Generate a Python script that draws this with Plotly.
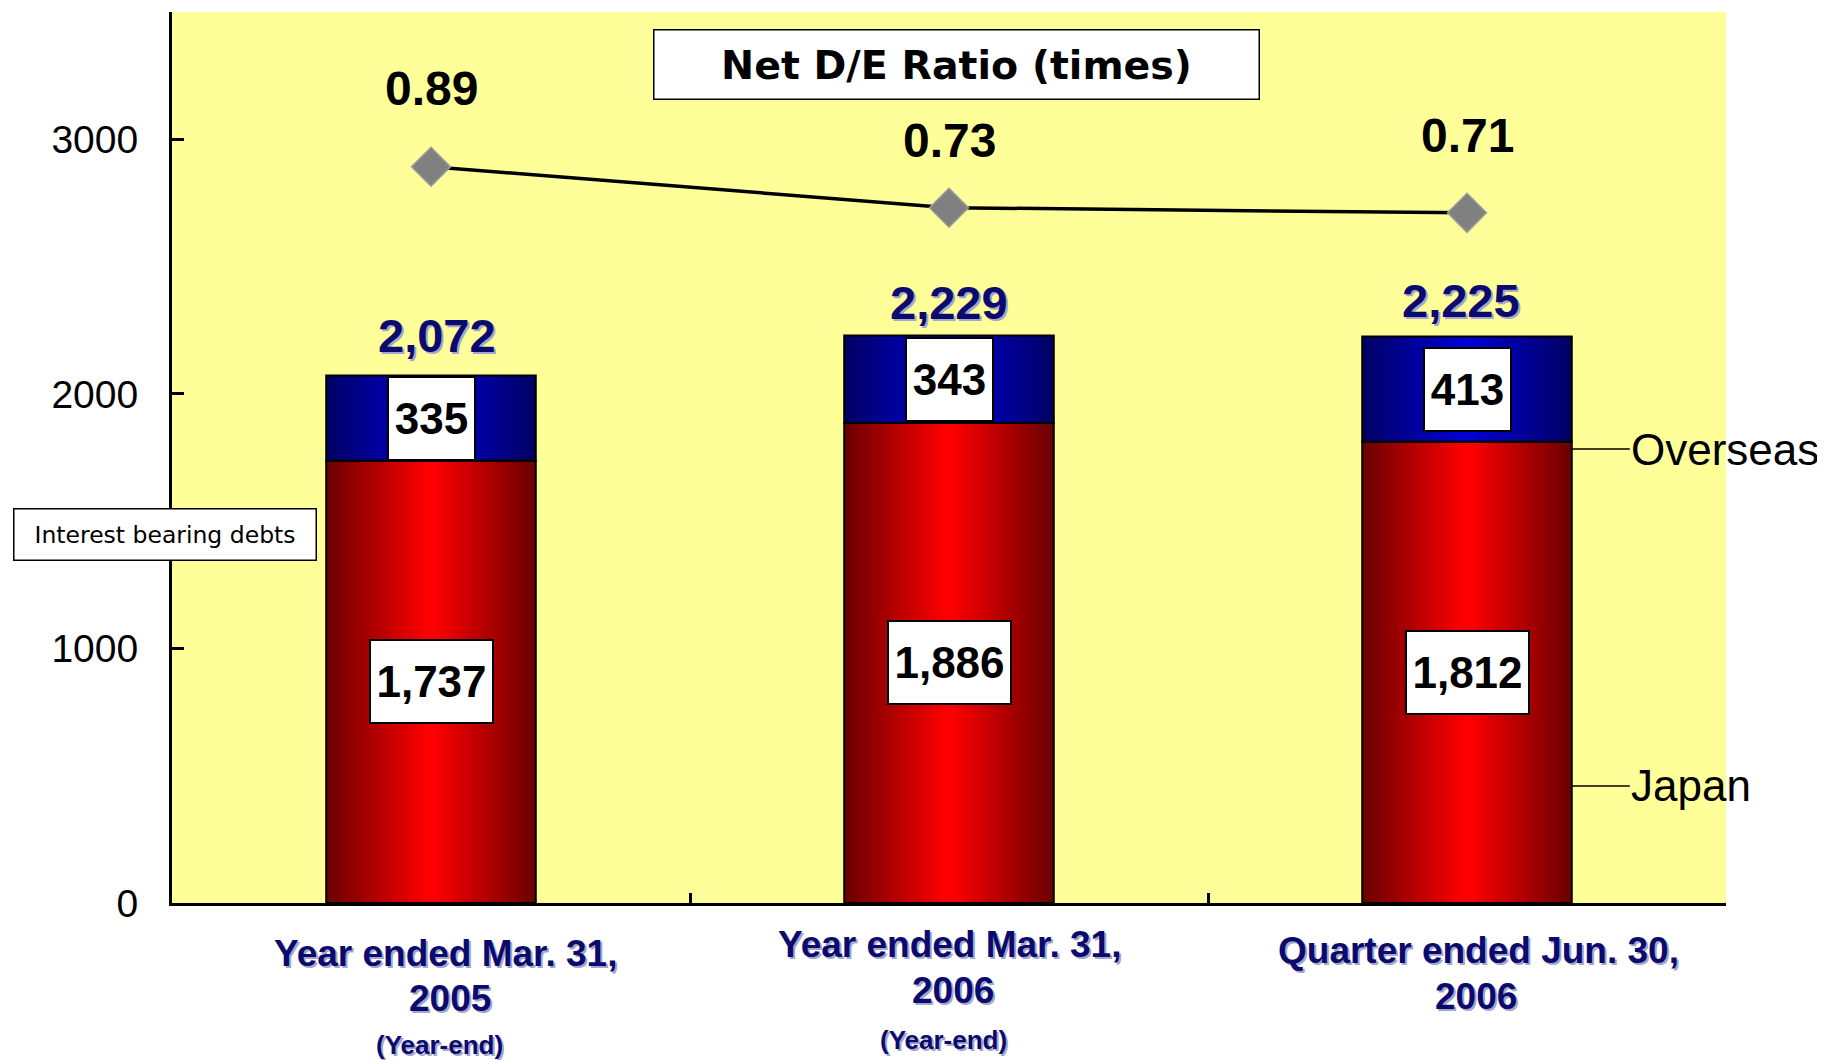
import plotly.graph_objects as go

# ---------------- data ----------------
categories = ["Year ended Mar. 31, 2005", "Year ended Mar. 31, 2006", "Quarter ended Jun. 30, 2006"]
japan = [1737, 1886, 1812]
overseas = [335, 343, 413]
totals = [2072, 2229, 2225]
de_ratio = [0.89, 0.73, 0.71]
cat_line1 = ["Year ended Mar. 31,", "Year ended Mar. 31,", "Quarter ended Jun. 30,"]
cat_line2 = ["2005", "2006", "2006"]
cat_line3 = ["(Year-end)", "(Year-end)", ""]
y_ticks = [0, 1000, 2000, 3000]

# ---------------- style / layout constants ----------------
FONT = "Liberation Sans, Arial, sans-serif"
NAVY = "#0b0b6e"
SHADOW = "2px 2px 0px #a6a6cc"
BAR_W = 0.4045
N_LAYERS = 32
RED_DARK, RED_BRIGHT = (108, 0, 0), (255, 0, 0)
BLUE_DARK, BLUE_BRIGHT = (0, 0, 100), (0, 0, 215)

RATIO_SHIFT = [78, 67, 77]
TOTAL_SHIFT = [40, 33, 36]
TOTAL_XSHIFT = [6, 0, -6]
XL_SHIFT_X = [[14, 19, 8], [0, 4, -6], [11, 9, 0]]
XL_SHIFT_Y = [[-50, -95, -142], [-41, -87, -137], [-47, -93, -140]]


def mix(c0, c1, t):
    return "rgb(%d,%d,%d)" % tuple(round(a + (b - a) * t) for a, b in zip(c0, c1))


fig = go.Figure()

# gradient bars: nested overlay bars, widest = darkest
for k in range(N_LAYERS):
    t = k / (N_LAYERS - 1)
    w = BAR_W * (1 - k / N_LAYERS)
    fig.add_bar(x=categories, y=japan, width=w,
                marker=dict(color=mix(RED_DARK, RED_BRIGHT, t), line=dict(width=0)),
                hoverinfo="skip", showlegend=False)
for k in range(N_LAYERS):
    t = k / (N_LAYERS - 1)
    w = BAR_W * (1 - k / N_LAYERS)
    fig.add_bar(x=categories, y=overseas, base=japan, width=w,
                marker=dict(color=mix(BLUE_DARK, BLUE_BRIGHT, t), line=dict(width=0)),
                hoverinfo="skip", showlegend=False)
# outlines
fig.add_bar(x=categories, y=japan, width=BAR_W,
            marker=dict(color="rgba(0,0,0,0)", line=dict(color="black", width=2)),
            hoverinfo="skip", showlegend=False)
fig.add_bar(x=categories, y=overseas, base=japan, width=BAR_W,
            marker=dict(color="rgba(0,0,0,0)", line=dict(color="black", width=2)),
            hoverinfo="skip", showlegend=False)

# Net D/E ratio line
fig.add_scatter(x=categories, y=de_ratio, yaxis="y2", mode="lines+markers",
                line=dict(color="black", width=3.5),
                marker=dict(symbol="diamond", size=30, color="#808080",
                            line=dict(color="#9c9c9c", width=1.5)),
                showlegend=False)

ann = []
# ratio labels
for i, v in enumerate(de_ratio):
    ann.append(dict(x=categories[i], y=v, xref="x", yref="y2", text=f"{v:.2f}",
                    showarrow=False, yanchor="middle", yshift=RATIO_SHIFT[i],
                    font=dict(family=FONT, size=48, color="black", weight="bold")))
# totals
for i, t in enumerate(totals):
    ann.append(dict(x=categories[i], y=t, xref="x", yref="y", text=f"{t:,}",
                    showarrow=False, yanchor="middle", yshift=TOTAL_SHIFT[i],
                    xshift=TOTAL_XSHIFT[i],
                    font=dict(family=FONT, size=47, color=NAVY, weight="bold",
                              shadow=SHADOW)))
# segment value boxes
for i in range(len(categories)):
    ann.append(dict(x=categories[i], y=japan[i] / 2, xref="x", yref="y",
                    text=f"{japan[i]:,}", showarrow=False,
                    bgcolor="white", bordercolor="black", borderwidth=2, borderpad=0,
                    width=121, height=81,
                    font=dict(family=FONT, size=44, color="black", weight="bold")))
    ann.append(dict(x=categories[i], y=japan[i] + overseas[i] / 2, xref="x", yref="y",
                    text=f"{overseas[i]:,}", showarrow=False,
                    bgcolor="white", bordercolor="black", borderwidth=2, borderpad=0,
                    width=85, height=81,
                    font=dict(family=FONT, size=44, color="black", weight="bold")))
# category labels
for i in range(len(categories)):
    lines = [(cat_line1[i], 37), (cat_line2[i], 37), (cat_line3[i], 26)]
    for j, (txt, sz) in enumerate(lines):
        if not txt:
            continue
        ann.append(dict(x=categories[i], y=0, xref="x", yref="paper", text=txt,
                        showarrow=False, yanchor="middle",
                        xshift=XL_SHIFT_X[i][j], yshift=XL_SHIFT_Y[i][j],
                        font=dict(family=FONT, size=sz, color=NAVY, weight="bold",
                                  shadow=SHADOW)))
# segment name leaders
ann.append(dict(x=2 + BAR_W / 2, y=1783, xref="x", yref="y", text="Overseas",
                showarrow=True, arrowhead=0, arrowwidth=1.5, arrowcolor="black",
                ax=58, ay=0, xanchor="left", borderpad=0,
                font=dict(family=FONT, size=44, color="black")))
ann.append(dict(x=2 + BAR_W / 2, y=460, xref="x", yref="y", text="Japan",
                showarrow=True, arrowhead=0, arrowwidth=1.5, arrowcolor="black",
                ax=58, ay=0, xanchor="left", borderpad=0,
                font=dict(family=FONT, size=44, color="black")))
# title boxes
ann.append(dict(x=0.5051, y=0.9416, xref="paper", yref="paper",
                xanchor="center", yanchor="middle",
                text="Net D/E Ratio (times)", showarrow=False,
                bgcolor="white", bordercolor="black", borderwidth=1.5, borderpad=0,
                width=604, height=68,
                font=dict(family="DejaVu Sans, sans-serif", size=39.5, color="black",
                          weight="bold")))
ann.append(dict(x=-0.0045, y=0.4136, xref="paper", yref="paper",
                xanchor="center", yanchor="middle",
                text="Interest bearing debts", showarrow=False,
                bgcolor="white", bordercolor="black", borderwidth=1.5, borderpad=0,
                width=301, height=50,
                font=dict(family="DejaVu Sans, sans-serif", size=23.5, color="black")))

# page body has an 8px margin, so the figure is 8px smaller and margins shifted
fig.update_layout(
    width=1817, height=1052,
    margin=dict(l=164, r=99, t=4, b=157),
    paper_bgcolor="white", plot_bgcolor="#FFFF99",
    barmode="overlay",
    showlegend=False,
    font=dict(family=FONT, color="black"),
    xaxis=dict(type="category", range=[-0.5, 2.5], showticklabels=False,
               showline=True, linecolor="black", linewidth=3,
               ticks="inside", tickson="boundaries", ticklen=10, tickwidth=2.5,
               tickcolor="black", showgrid=False, zeroline=False, fixedrange=True),
    yaxis=dict(range=[0, 3500], tickvals=y_ticks, ticktext=[str(v) for v in y_ticks],
               showline=True, linecolor="black", linewidth=3,
               ticks="inside", ticklen=12, tickwidth=3, tickcolor="black",
               ticklabelstandoff=23,
               tickfont=dict(family=FONT, size=39, color="black"),
               showgrid=False, zeroline=False, fixedrange=True),
    yaxis2=dict(overlaying="y", range=[-1.986, 1.4945], visible=False, fixedrange=True),
    annotations=ann,
)

fig.write_html("out.html")
